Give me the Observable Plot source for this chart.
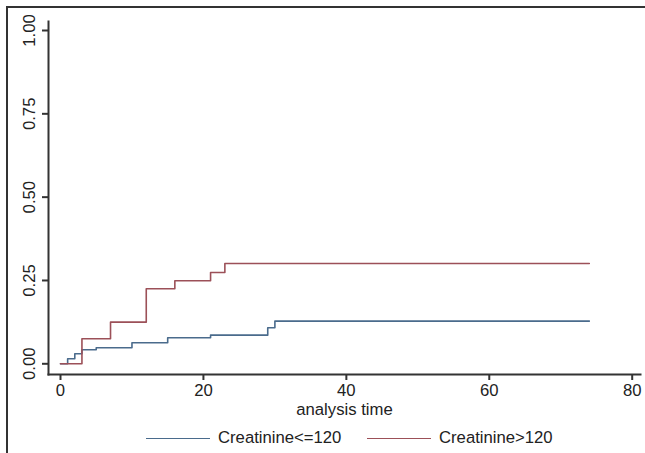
<!DOCTYPE html>
<html>
<head>
<meta charset="utf-8">
<script src="https://cdn.jsdelivr.net/npm/d3@7"></script>
<script src="https://cdn.jsdelivr.net/npm/@observablehq/plot@0.6"></script>
<style>
  html, body { margin: 0; padding: 0; background: #fff; }
  body { width: 645px; height: 453px; position: relative; overflow: hidden; font-family: "Liberation Sans", Arial, sans-serif; }
  #frame { position: absolute; left: 6px; top: 6px; width: 645px; height: 453px; border-top: 2px solid #333; border-left: 2px solid #333; box-sizing: border-box; }
  #chart { position: absolute; left: 0; top: 0; }
  #legend { position: absolute; top: 428px; left: 0; width: 645px; height: 20px; font-size: 16.7px; color: #222; }
  .item { position: absolute; top: 0; display: flex; align-items: center; height: 20px; }
  .swatch { display: inline-block; width: 64px; height: 0; border-top: 1.6px solid; margin-right: 8px; }
</style>
</head>
<body>
<div id="frame"></div>
<div id="chart"></div>
<div id="legend"></div>
<script>
const seriesNames = ["Creatinine<=120", "Creatinine>120"];
const seriesColors = ["#4a6b8c", "#9c5058"];
const lowTimes = [0, 1, 2, 3, 5, 10, 15, 21, 29, 30, 74];
const lowValues = [0, 0.015, 0.030, 0.042, 0.048, 0.063, 0.078, 0.086, 0.108, 0.128, 0.128];
const highTimes = [0, 3, 7, 12, 16, 21, 23, 74];
const highValues = [0, 0.075, 0.125, 0.225, 0.249, 0.274, 0.301, 0.301];
const xTicks = [0, 20, 40, 60, 80];
const yTicks = [0, 0.25, 0.5, 0.75, 1];
const xLabel = "analysis time";

const data = [
  ...lowTimes.map((t, i) => ({t, v: lowValues[i], s: seriesNames[0]})),
  ...highTimes.map((t, i) => ({t, v: highValues[i], s: seriesNames[1]}))
];

const plot = Plot.plot({
  width: 645,
  height: 420,
  marginLeft: 48,
  marginRight: 5,
  marginTop: 21,
  marginBottom: 46,
  insetLeft: 12,
  insetRight: 8.3,
  insetTop: 9,
  insetBottom: 10.7,
  style: {fontFamily: "Liberation Sans, Arial, sans-serif", fontSize: "16.7px", color: "#222", background: "transparent"},
  x: {domain: [0, 80]},
  y: {domain: [0, 1]},
  color: {domain: seriesNames, range: seriesColors},
  marks: [
    Plot.axisX({ticks: xTicks, tickSize: 6, tickPadding: 4, label: xLabel, labelAnchor: "center", labelArrow: "none", labelOffset: 40, stroke: "#333", strokeWidth: 2}),
    Plot.axisY({ticks: yTicks, tickSize: 6, tickFormat: d3.format(".2f"), tickRotate: -90, tickPadding: 8, label: null, stroke: "#333", strokeWidth: 2}),
    Plot.frame({anchor: "bottom", stroke: "#333", strokeWidth: 2}),
    Plot.frame({anchor: "left", stroke: "#333", strokeWidth: 2}),
    Plot.line(data, {x: "t", y: "v", z: "s", stroke: "s", curve: "step-after", strokeWidth: 1.6})
  ]
});
document.getElementById("chart").appendChild(plot);

const legend = document.getElementById("legend");
const lx = [146, 367];
seriesNames.forEach((name, i) => {
  const item = document.createElement("div");
  item.className = "item";
  item.style.left = lx[i] + "px";
  const sw = document.createElement("span");
  sw.className = "swatch";
  sw.style.borderTopColor = seriesColors[i];
  const tx = document.createElement("span");
  tx.textContent = name;
  item.appendChild(sw);
  item.appendChild(tx);
  legend.appendChild(item);
});
</script>
</body>
</html>
